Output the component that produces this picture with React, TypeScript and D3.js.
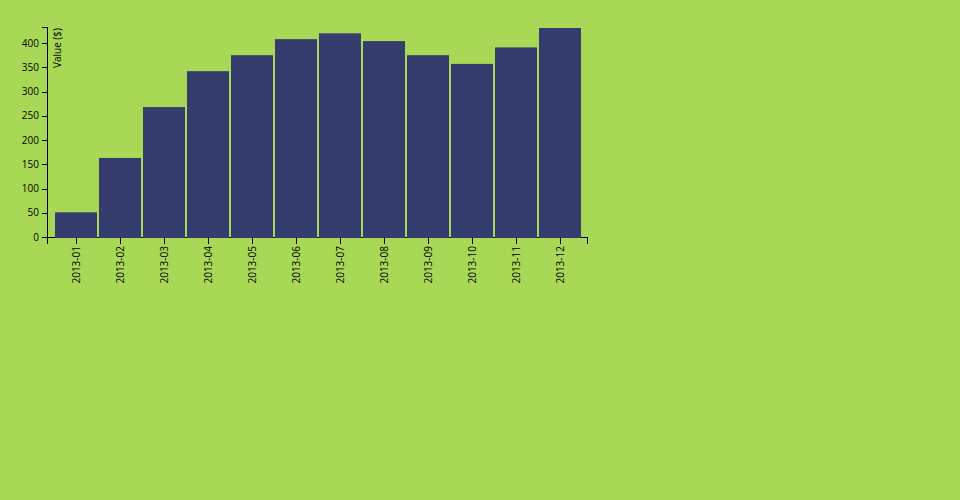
import React, { useEffect, useRef } from "react";
import * as d3 from "d3";

const months = ["2013-01","2013-02","2013-03","2013-04","2013-05","2013-06","2013-07","2013-08","2013-09","2013-10","2013-11","2013-12"];
const values = [53, 165, 270, 344, 377, 410, 422, 406, 377, 359, 393, 433];
const yLabel = "Value ($)";

const BG = "#a9d856";
const BAR = "#353d6f";

export default function App() {
  const ref = useRef<SVGSVGElement>(null);
  useEffect(() => {
    document.body.style.background = BG;
    const margin = { top: 20, right: 20, bottom: 70, left: 40 };
    const width = 600 - margin.left - margin.right;
    const height = 300 - margin.top - margin.bottom;
    const svg = d3.select(ref.current!);
    svg.selectAll("*").remove();
    const g = svg.append("g").attr("transform", `translate(${margin.left},${margin.top})`);
    const x = d3.scaleBand<string>().domain(months).range([0, width]).paddingInner(0.05).paddingOuter(0.05).round(true);
    const y = d3.scaleLinear().domain([0, d3.max(values)!]).range([height, 0]);

    const xa = g.append("g").attr("transform", `translate(0,${height})`).call(d3.axisBottom(x).offset(-0.5));
    xa.attr("font-family", "'Open Sans'");
    xa.selectAll("text")
      .style("text-anchor", "end")
      .attr("dx", "-.8em")
      .attr("dy", "-.55em")
      .attr("transform", "rotate(-90)")
      .attr("fill", "#000");

    const ya = g.append("g").call(d3.axisLeft(y).ticks(10).offset(-0.5));
    ya.attr("font-family", "'Open Sans'");
    ya.selectAll("text").attr("fill", "#000");
    ya.append("text")
      .attr("transform", "rotate(-90)")
      .attr("y", 6)
      .attr("dy", ".71em")
      .attr("fill", "#000")
      .style("text-anchor", "end")
      .text(yLabel);

    g.selectAll(".domain, .tick line").attr("stroke", "#000").attr("shape-rendering", "crispEdges");

    g.selectAll("rect.bar")
      .data(values)
      .enter()
      .append("rect")
      .attr("class", "bar")
      .attr("fill", BAR)
      .attr("x", (_, i) => x(months[i])!)
      .attr("width", x.bandwidth())
      .attr("y", (d) => y(d))
      .attr("height", (d) => height - y(d));
  }, []);
  return <svg ref={ref} width={600} height={300} style={{ display: "block" }} />;
}
